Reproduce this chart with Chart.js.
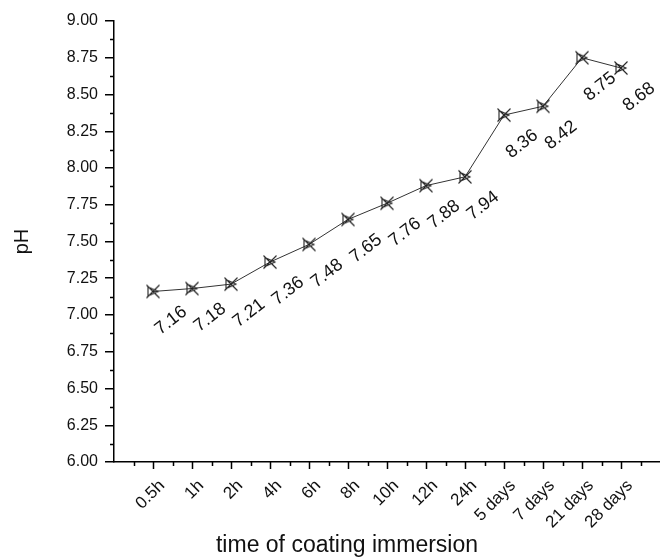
<!DOCTYPE html>
<html>
<head>
<meta charset="utf-8">
<script src="https://cdn.jsdelivr.net/npm/chart.js@4.4.0/dist/chart.umd.min.js"></script>
<style>
  html, body { margin: 0; padding: 0; background: #fff; }
  #wrap { width: 660px; height: 558px; }
</style>
</head>
<body>
<div id="wrap"><canvas id="chart" width="660" height="558"></canvas></div>
<script>
// data
const categories = ['0.5h', '1h', '2h', '4h', '6h', '8h', '10h', '12h', '24h', '5 days', '7 days', '21 days', '28 days'];
const phValues = [7.16, 7.18, 7.21, 7.36, 7.48, 7.65, 7.76, 7.88, 7.94, 8.36, 8.42, 8.75, 8.68];
const yMin = 6, yMax = 9, yStep = 0.25;
const xTitle = 'time of coating immersion';
const yTitle = 'pH';

const FONT = '"Liberation Sans", Arial, Helvetica, sans-serif';
const INK = '#111';

// marker: X cross with a small triangle, like the Origin symbol
function makeMarker(){
  const s = 16, m = document.createElement('canvas');
  m.width = s; m.height = s;
  const g = m.getContext('2d');
  g.strokeStyle = '#222'; g.lineWidth = 1.1;
  g.beginPath();
  g.moveTo(1.5, 1.5); g.lineTo(14.5, 14.5);
  g.moveTo(14.5, 1.5); g.lineTo(1.5, 14.5);
  g.moveTo(3, 3.5); g.lineTo(13, 8); g.lineTo(3, 12.5); g.closePath();
  g.stroke();
  return m;
}
const marker = makeMarker();

const points = phValues.map((v, i) => ({x: i, y: v}));

const extras = {
  id: 'extras',
  afterDraw(chart){
    const ctx = chart.ctx, xs = chart.scales.x, ys = chart.scales.y;
    const ax = xs.getPixelForValue(-1), ay = ys.getPixelForValue(yMin);
    ctx.save();
    ctx.strokeStyle = '#000'; ctx.lineWidth = 1.5;
    ctx.beginPath();
    // minor y ticks
    for(let v = yMin + yStep / 2; v < yMax; v += yStep){
      const py = Math.round(ys.getPixelForValue(v)) + 0.5;
      ctx.moveTo(ax - 4, py); ctx.lineTo(ax, py);
    }
    // x ticks: major on categories, minor halfway
    categories.forEach((c, i) => {
      const px = Math.round(xs.getPixelForValue(i)) + 0.5;
      ctx.moveTo(px, ay); ctx.lineTo(px, ay + 7);
    });
    for(let i = -0.5; i < categories.length + 1; i += 1){
      const px = Math.round(xs.getPixelForValue(i)) + 0.5;
      ctx.moveTo(px, ay); ctx.lineTo(px, ay + 4);
    }
    ctx.stroke();

    // x tick labels, rotated
    ctx.fillStyle = INK;
    ctx.font = '17px ' + FONT;
    ctx.textAlign = 'right'; ctx.textBaseline = 'top';
    categories.forEach((c, i) => {
      const px = xs.getPixelForValue(i);
      ctx.save();
      ctx.translate(px + 3, ay + 15);
      ctx.rotate(-Math.PI / 4);
      ctx.fillText(c, 0, 0);
      ctx.restore();
    });

    // value labels below each point
    ctx.font = '18px ' + FONT;
    ctx.textAlign = 'center'; ctx.textBaseline = 'middle';
    phValues.forEach((v, i) => {
      const px = xs.getPixelForValue(i), py = ys.getPixelForValue(v);
      ctx.save();
      ctx.translate(px + 18, py + 29);
      ctx.rotate(-38 * Math.PI / 180);
      ctx.fillText(v.toFixed(2), 0, 0);
      ctx.restore();
    });

    // axis titles
    ctx.font = '20px ' + FONT;
    ctx.save();
    ctx.translate(22, (ys.top + ys.bottom) / 2);
    ctx.rotate(-Math.PI / 2);
    ctx.fillText(yTitle, 0, 0);
    ctx.restore();
    ctx.font = '23px ' + FONT;
    ctx.fillText(xTitle, 347, 546);
    ctx.restore();
  }
};

new Chart(document.getElementById('chart'), {
  type: 'line',
  data: {
    datasets: [{
      data: points,
      borderColor: '#333',
      borderWidth: 1,
      pointStyle: marker,
      pointRadius: 8,
      tension: 0,
      fill: false
    }]
  },
  options: {
    responsive: false,
    devicePixelRatio: 1,
    animation: false,
    layout: { autoPadding: false, padding: { top: 21, right: 0, bottom: 0, left: 0 } },
    plugins: { legend: { display: false }, tooltip: { enabled: false } },
    scales: {
      x: {
        type: 'linear', min: -1, max: categories.length,
        ticks: { display: false },
        grid: { display: false },
        border: { display: true, color: '#000', width: 1.5 },
        afterFit(s){ s.height = 96; }
      },
      y: {
        min: yMin, max: yMax,
        ticks: {
          stepSize: yStep, color: INK, padding: 7,
          font: { family: FONT, size: 16 },
          callback: v => v.toFixed(2)
        },
        grid: { display: true, drawOnChartArea: false, drawTicks: true, tickLength: 9, color: '#000', lineWidth: 1.5 },
        border: { display: true, color: '#000', width: 1.5 },
        afterFit(s){ s.width = 114; }
      }
    }
  },
  plugins: [extras]
});
</script>
</body>
</html>
